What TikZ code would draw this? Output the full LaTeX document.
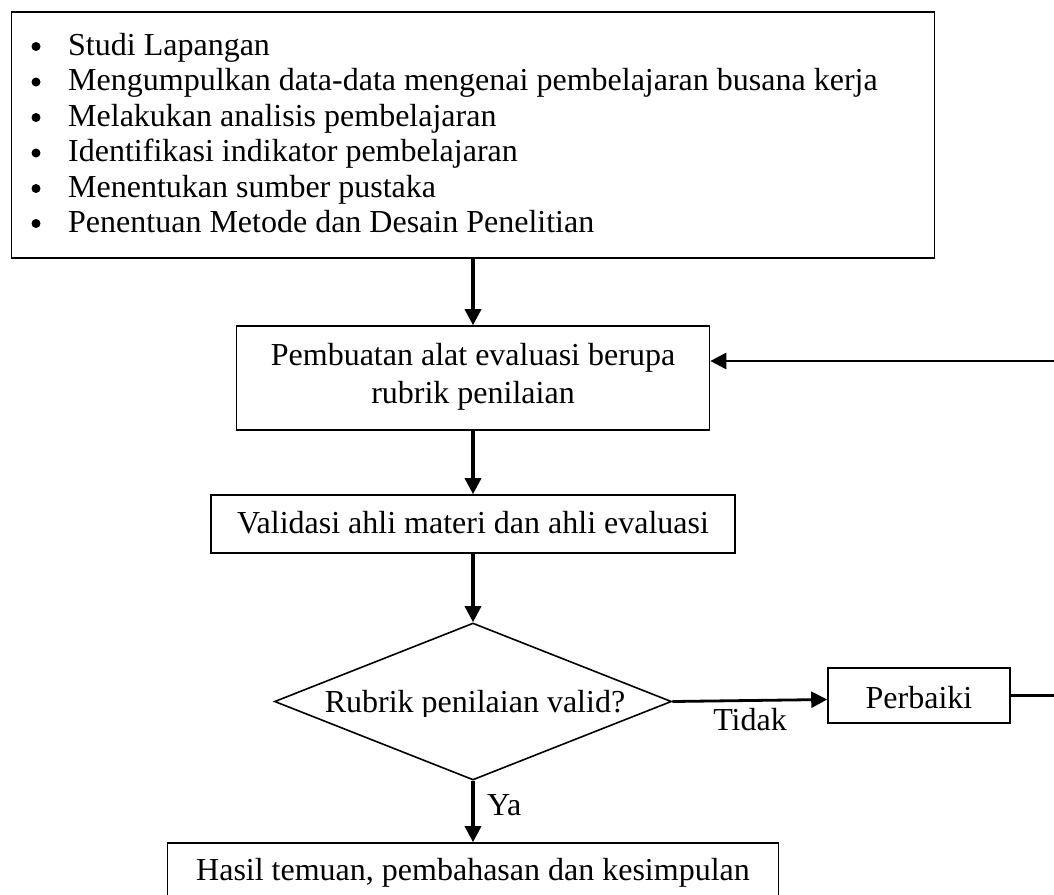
\documentclass[tikz,border=0pt]{standalone}
\usepackage{fontspec}
\setmainfont{Liberation Serif}
\usetikzlibrary{shapes.geometric,arrows.meta}
\tikzset{
  box/.style={draw=black, line width=1.6pt, inner sep=0pt, fill=white},
  txt/.style={inner sep=0pt, anchor=base, font=\fontsize{32}{37}\selectfont},
  ltxt/.style={txt, anchor=base west},
  conn/.style={line width=3.4pt, -{Triangle[length=16pt,width=16pt]}},
  hconn/.style={line width=2.8pt, -{Triangle[length=16pt,width=16pt]}},
  plainconn/.style={line width=2.4pt},
  bul/.style={circle, fill=black, inner sep=0pt, minimum size=9pt}
}
\begin{document}
\begin{tikzpicture}[x=1pt,y=-1pt]
\clip (0,0) rectangle (1054,894);
\fill[white] (0,0) rectangle (1054,894);
% boxes
\node[box, minimum width=923pt, minimum height=246pt] (top) at (473,135) {};
\node[box, minimum width=473pt, minimum height=104pt] (pemb) at (473,378) {};
\node[box, minimum width=524pt, minimum height=58pt] (vali) at (473,524) {};
\node[draw=black, line width=1.6pt, diamond, inner sep=0pt, minimum width=397pt, minimum height=157pt] (dia) at (473,701.5) {};
\node[box, minimum width=182pt, minimum height=55pt] (perb) at (919,695.5) {};
\node[box, minimum width=611pt, minimum height=90pt] (hasil) at (473,888) {};
% top box list
\foreach \yy/\tt [count=\i] in {55/Studi Lapangan,
  90.5/Mengumpulkan data-data mengenai pembelajaran busana kerja,
  126/Melakukan analisis pembelajaran,
  161.5/Identifikasi indikator pembelajaran,
  197/Menentukan sumber pustaka,
  232/Penentuan Metode dan Desain Penelitian}{
  \node[bul] (b\i) at (36,\yy-8.5) {};
  \node[ltxt] (l\i) at (68,\yy) {\tt};
}
% texts
\node[txt] (pembt1) at (473,365) {Pembuatan alat evaluasi berupa};
\node[txt] (pembt2) at (473,403) {rubrik penilaian};
\node[txt] (valit) at (473,533) {Validasi ahli materi dan ahli evaluasi};
\begin{scope}
\clip (250,600) rectangle (700,716);
\node[txt] (diat) at (475,712) {Rubrik penilaian valid?};
\end{scope}
\node[txt] (perbt) at (919,708) {Perbaiki};
\node[txt] (hasilt) at (473,880) {Hasil temuan, pembahasan dan kesimpulan};
\node[txt] (tidak) at (750,730) {Tidak};
\node[ltxt] (ya) at (487,815) {Ya};
% connectors
\coordinate (fbR) at (1054,361);
\coordinate (prR) at (1054,695.5);
\draw[conn] (top.south) -- (pemb.north);
\draw[conn] (pemb.south) -- (vali.north);
\draw[conn] (vali.south) -- (dia.north);
\draw[conn] (dia.south) -- (hasil.north);
\draw[hconn] (dia.east) -- ([yshift=-4pt]perb.west);
\draw[plainconn] (perb.east) -- (prR);
\draw[hconn] (fbR) -- (fbR -| pemb.east);
\end{tikzpicture}
\end{document}
